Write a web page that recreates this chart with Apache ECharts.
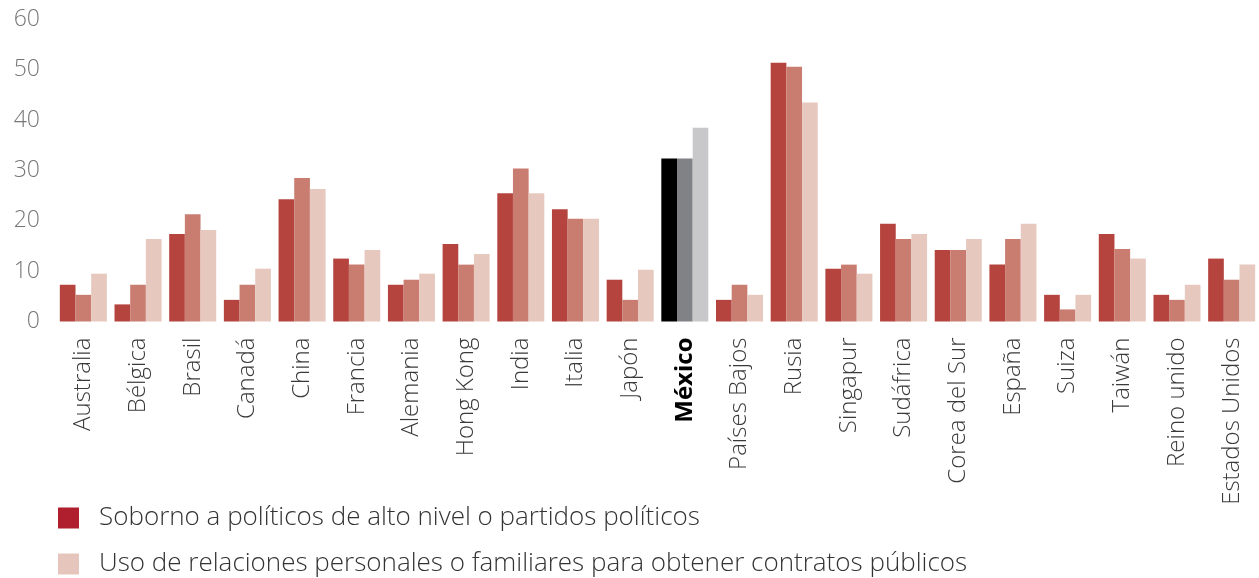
<!DOCTYPE html>
<html><head><meta charset="utf-8">
<script src="https://cdn.jsdelivr.net/npm/echarts@6/dist/echarts.min.js"></script>
<style>html,body{margin:0;padding:0;background:#fff}#c{width:1259px;height:578px}</style>
</head><body><div id="c"></div>
<script>
const categories = ["Australia","Bélgica","Brasil","Canadá","China","Francia","Alemania","Hong Kong","India","Italia","Japón","México","Países Bajos","Rusia","Singapur","Sudáfrica","Corea del Sur","España","Suiza","Taiwán","Reino unido","Estados Unidos"];
const soborno = [7.3,3.4,17.4,4.3,24.3,12.5,7.3,15.4,25.5,22.3,8.3,32.4,4.3,51.4,10.5,19.4,14.2,11.3,5.3,17.4,5.3,12.5];
const serieMedia = [5.3,7.3,21.3,7.3,28.5,11.3,8.3,11.3,30.4,20.4,4.3,32.4,7.3,50.6,11.3,16.4,14.2,16.4,2.4,14.4,4.3,8.3];
const relaciones = [9.5,16.4,18.2,10.5,26.3,14.2,9.5,13.4,25.5,20.4,10.3,38.5,5.3,43.5,9.5,17.4,16.4,19.4,5.3,12.5,7.3,11.3];
const yTicks = [0,10,20,30,40,50,60];

const name1 = "Soborno a políticos de alto nivel o partidos políticos";
const name2 = "Serie intermedia";
const name3 = "Uso de relaciones personales o familiares para obtener contratos públicos";
const hl = "México";
const font = "Open Sans";

function mk(vals, hlColor){
  return vals.map((v,i)=> categories[i]===hl ? {value:v, itemStyle:{color:hlColor}} : v);
}
const legendBase = {
  left:58, itemWidth:21, itemHeight:21, icon:'rect', selectedMode:false, padding:0,
  textStyle:{fontSize:26, color:'#333', fontFamily:font, fontWeight:300, padding:[0,0,0,15]}
};

const chart = echarts.init(document.getElementById('c'));
chart.setOption({
  animation:false,
  textStyle:{fontFamily:font},
  grid:{left:56, top:19.5, width:1207, height:302, containLabel:false},
  legend:[
    Object.assign({}, legendBase, {top:505, data:[{name:name1, itemStyle:{color:'#AF1F2D'}}]}),
    Object.assign({}, legendBase, {top:551, data:[{name:name3, itemStyle:{color:'#E6C6BC'}}]})
  ],
  xAxis:{
    type:'category', data:categories,
    axisLine:{show:false}, axisTick:{show:false},
    axisLabel:{
      rotate:90, interval:0, fontSize:24, color:'#3a3a3a', fontFamily:font, fontWeight:300, margin:16,
      formatter:(v)=> v===hl ? '{b|'+v+'}' : v,
      rich:{b:{fontWeight:'bold', color:'#000', fontSize:24, fontFamily:font}}
    }
  },
  yAxis:{
    type:'value', min:0, max:60, interval:10,
    splitLine:{show:false}, axisLine:{show:false}, axisTick:{show:false},
    axisLabel:{fontSize:23, color:'#777', fontFamily:font, fontWeight:300, margin:16,
      formatter:(v)=> yTicks.includes(v) ? String(v) : ''}
  },
  series:[
    {name:name1, type:'bar', data:mk(soborno,'#000000'), itemStyle:{color:'#B5443F'}, barGap:'0%', barCategoryGap:'14%'},
    {name:name2, type:'bar', data:mk(serieMedia,'#818285'), itemStyle:{color:'#C97D70'}, barGap:'0%', barCategoryGap:'14%'},
    {name:name3, type:'bar', data:mk(relaciones,'#C8C8CA'), itemStyle:{color:'#E6C8BE'}, barGap:'0%', barCategoryGap:'14%'}
  ]
});
</script></body></html>
